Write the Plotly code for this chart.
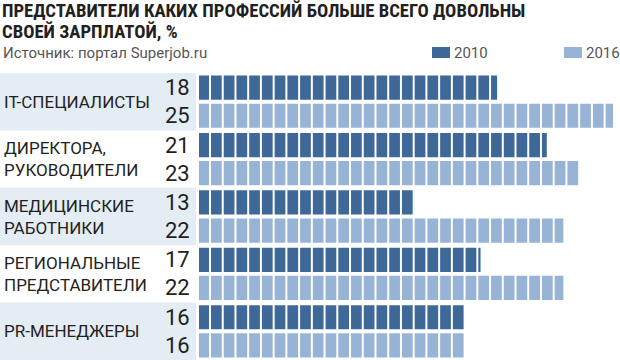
import plotly.graph_objects as go

# ---- data ----
categories = ["IT-СПЕЦИАЛИСТЫ", "ДИРЕКТОРА,<br>РУКОВОДИТЕЛИ", "МЕДИЦИНСКИЕ<br>РАБОТНИКИ",
              "РЕГИОНАЛЬНЫЕ<br>ПРЕДСТАВИТЕЛИ", "PR-МЕНЕДЖЕРЫ"]
values_2010 = [18, 21, 13, 17, 16]
values_2016 = [25, 23, 22, 22, 16]
series_names = ["2010", "2016"]
title_lines = ["ПРЕДСТАВИТЕЛИ КАКИХ ПРОФЕССИЙ БОЛЬШЕ ВСЕГО ДОВОЛЬНЫ", "СВОЕЙ ЗАРПЛАТОЙ, %"]
source_text = "Источник: портал Superjob.ru"

# ---- style ----
W, H = 620, 360
ML, MT, MR, MB = 199, 73, 2, 0
XMAX = 25.3
PW = W - ML - MR
PH = H - MT - MB
DARK = "#3d6898"
LIGHT = "#97b3d5"
BAND = "#e4ecf4"
TEXT = "#231f20"
COND = "Liberation Sans Narrow, Roboto Condensed, DejaVu Sans Condensed, Roboto, sans-serif"
FONT = "Roboto, Liberation Sans Narrow, sans-serif"
COLORS = [DARK, LIGHT]


def px_x(px):
    return (px - ML) / PW


def px_y(py):
    return 1 - (py - MT) / PH


fig = go.Figure()
for name, vals, col in zip(series_names, [values_2010, values_2016], COLORS):
    fig.add_trace(go.Bar(orientation="h", y=categories, x=vals, name=name,
                         marker=dict(color=col, line=dict(width=0))))

shapes = []
# alternating background bands behind labels
for i, c in enumerate(categories):
    if i % 2 == 0:
        shapes.append(dict(type="rect", xref="paper", yref="y", layer="below",
                           x0=px_x(0), x1=px_x(196), y0=i - 0.5, y1=i + 0.5,
                           fillcolor=BAND, line=dict(width=0)))
# white cell separators
step = 12.73 * XMAX / PW
x = 11 * XMAX / PW
while x < XMAX:
    shapes.append(dict(type="line", xref="x", yref="paper", layer="above",
                       x0=x, x1=x, y0=0, y1=1, line=dict(color="white", width=2)))
    x += step

ann = []
for i, c in enumerate(categories):
    ann.append(dict(xref="paper", yref="y", x=px_x(2), y=c, xanchor="left", yanchor="middle",
                    text=c, showarrow=False, align="left",
                    font=dict(family=FONT, size=17, color=TEXT)))
    for j, vals in enumerate([values_2010, values_2016]):
        ann.append(dict(xref="paper", yref="y", x=px_x(192), y=c, xanchor="right", yanchor="middle",
                        yshift=14 if j == 0 else -14, text=str(vals[i]), showarrow=False,
                        font=dict(family=FONT, size=22, color=TEXT)))

for line, cy in zip(title_lines, [11, 32]):
    ann.append(dict(xref="paper", yref="paper", x=px_x(1), y=px_y(cy), xanchor="left",
                    yanchor="middle", text="<b>" + line + "</b>", showarrow=False, align="left",
                    borderpad=0, font=dict(family=COND, size=18.7, color=TEXT)))
ann.append(dict(xref="paper", yref="paper", x=px_x(1), y=px_y(53), xanchor="left",
                yanchor="middle", text=source_text, showarrow=False, align="left",
                font=dict(family=FONT, size=15, color="#555555")))

# legend drawn manually
leg_x = [432, 564]
for name, col, lx in zip(series_names, COLORS, leg_x):
    shapes.append(dict(type="rect", xref="paper", yref="paper", x0=px_x(lx), x1=px_x(lx + 18),
                       y0=px_y(58), y1=px_y(47), fillcolor=col, line=dict(width=0)))
    ann.append(dict(xref="paper", yref="paper", x=px_x(lx + 20), y=px_y(53), xanchor="left",
                    yanchor="middle", text=name, showarrow=False,
                    font=dict(family=FONT, size=15, color="#555555")))

fig.update_layout(
    width=W, height=H, margin=dict(l=ML, r=MR, t=MT, b=MB, autoexpand=False),
    paper_bgcolor="white", plot_bgcolor="white",
    barmode="group", bargap=0.02, bargroupgap=0.14,
    xaxis=dict(range=[0, XMAX], visible=False, fixedrange=True),
    yaxis=dict(type="category", autorange="reversed", visible=False, fixedrange=True),
    shapes=shapes, annotations=ann,
    showlegend=False,
)

fig.write_html("out.html", post_script="document.body.style.margin='0';",
               config={"displayModeBar": False})
